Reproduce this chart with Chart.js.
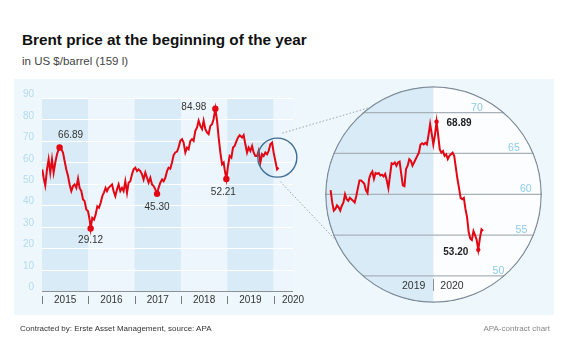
<!DOCTYPE html>
<html><head><meta charset="utf-8">
<script src="https://cdn.jsdelivr.net/npm/chart.js@4"></script>
<style>
html,body{margin:0;padding:0;background:#fff;}
body{width:570px;height:360px;position:relative;overflow:hidden;font-family:"Liberation Sans",Arial,sans-serif;}
#title{position:absolute;left:22px;top:31.5px;font-size:15.3px;line-height:1;font-weight:bold;color:#111;white-space:nowrap;}
#sub{position:absolute;left:22px;top:56px;font-size:11.5px;line-height:1;color:#444;white-space:nowrap;}
#panel{position:absolute;left:14px;top:79px;width:540px;height:236px;background:#eef7fc;}
#main{position:absolute;left:0;top:0;}
#zoomWrap{position:absolute;left:325px;top:86px;width:217px;height:217px;clip-path:circle(50%);}
#zoom{position:absolute;left:0;top:0;}
#footL{position:absolute;left:20px;top:325px;font-size:8px;line-height:1;color:#333;white-space:nowrap;}
#footR{position:absolute;right:20px;top:325px;font-size:8px;line-height:1;color:#888;white-space:nowrap;}
</style></head>
<body>
<div id="title">Brent price at the beginning of the year</div>
<div id="sub">in US $/barrel (159 l)</div>
<div id="panel"></div>
<canvas id="main" width="570" height="360" style="width:570px;height:360px"></canvas>
<div id="zoomWrap"><canvas id="zoom" width="217" height="217" style="width:217px;height:217px"></canvas></div>
<div id="footL">Contracted by: Erste Asset Management, source: APA</div>
<div id="footR">APA-contract chart</div>
<script>
// ---- data ----
const years = [2015, 2016, 2017, 2018, 2019, 2020];
const yTicks = [0, 10, 20, 30, 40, 50, 60, 70, 80, 90];
const mainT = [
 2015.006,2015.035,2015.071,2015.108,2015.143,2015.179,2015.216,2015.251,2015.287,2015.324,2015.359,2015.380,2015.417,2015.454,2015.488,2015.525,2015.562,2015.596,2015.633,2015.670,2015.704,2015.741,2015.778,2015.812,2015.849,2015.886,2015.920,2015.957,2015.994,
 2016.028,2016.050,2016.086,2016.123,2016.158,2016.194,2016.231,2016.266,2016.302,2016.339,2016.374,2016.404,2016.438,2016.475,2016.512,2016.546,2016.583,2016.620,2016.654,2016.691,2016.728,2016.762,2016.799,2016.836,2016.870,2016.907,2016.944,2016.978,
 2017.015,2017.052,2017.086,2017.123,2017.160,2017.194,2017.231,2017.268,2017.302,2017.339,2017.376,2017.410,2017.447,2017.484,2017.518,2017.555,2017.592,2017.626,2017.663,2017.700,2017.734,2017.771,2017.808,2017.842,2017.879,2017.916,2017.950,2017.987,
 2018.024,2018.058,2018.095,2018.132,2018.166,2018.203,2018.240,2018.274,2018.311,2018.348,2018.382,2018.419,2018.456,2018.490,2018.527,2018.564,2018.598,2018.635,2018.672,2018.706,2018.743,2018.780,2018.814,2018.851,2018.888,2018.922,2018.944,2018.981,
 2019.017,2019.052,2019.089,2019.125,2019.160,2019.197,2019.233,2019.268,2019.320,2019.354,2019.391,2019.428,2019.462,2019.499,2019.536,2019.570,2019.607,2019.644,2019.678,2019.715,2019.752,2019.786,2019.823,2019.860,2019.894,2019.931,2019.968,
 2020.002,2020.039,2020.076,2020.110
];
const mainV = [
 56.7,52.8,49.2,56.7,61.4,55.2,61.4,55.2,59.9,63.8,66.0,66.89,66.1,64.6,60.6,56.7,53.6,49.7,46.6,48.9,49.7,48.1,52.4,48.1,46.6,42.7,41.9,38.0,37.2,
 33.3,29.12,34.1,33.3,35.6,39.5,38.8,41.0,44.2,46.0,48.1,46.6,48.1,48.9,49.7,46.6,44.2,47.4,49.7,46.6,48.1,46.6,51.2,45.8,50.5,51.2,54.4,56.7,
 57.5,55.9,56.7,55.9,54.4,52.0,55.2,52.8,50.5,52.8,49.7,48.9,47.4,45.30,48.1,50.5,52.0,51.2,52.8,55.9,57.5,57.0,60.0,63.4,64.6,65.0,67.0,70.0,
 70.8,69.2,64.6,66.9,66.1,70.0,70.8,70.0,74.7,76.3,79.4,77.0,75.5,79.4,75.5,73.9,73.1,77.0,77.8,80.2,84.98,79.4,71.6,64.6,59.1,59.9,56.7,52.21,
 58.3,63.0,62.2,66.9,67.6,69.8,71.6,72.6,71.6,72.7,68.4,64.6,66.9,65.3,67.6,64.6,63.0,63.0,65.3,59.9,63.8,63.0,64.6,63.8,65.3,68.4,69.2,
 64.6,60.6,56.7,57.5
];
const markT = [2015.380, 2016.050, 2017.484, 2018.743, 2018.981];
const markV = [66.89, 29.12, 45.30, 84.98, 52.21];
const focusT = 2020.082, focusV = 62.2;   // centre of the highlighted period

const zoomV = [
 60.5,59.0,58.0,58.2,58.65,58.4,58.0,58.6,59.0,60.0,59.4,59.2,59.56,59.4,59.2,59.0,59.8,60.75,61.7,61.7,
 61.5,61.3,60.5,60.15,61.9,62.5,62.8,61.9,62.6,62.5,62.6,62.3,62.4,62.2,62.5,61.7,60.75,62.3,63.8,63.7,
 63.9,63.5,63.9,64.0,62.5,61.1,61.0,63.1,63.5,64.3,64.1,63.5,63.9,64.3,64.7,65.1,66.1,66.25,66.1,66.3,
 66.1,67.25,68.6,67.4,66.1,67.25,68.89,67.25,65.5,65.1,65.3,64.7,64.9,64.3,64.7,64.9,65.1,64.7,63.3,61.9,
 60.75,59.56,59.4,59.56,58.2,57.2,55.4,54.6,54.4,55.5,55.0,54.4,53.2,54.6,55.7,55.5
];
const zoomYears = ['2019', '2020'];
const zoomSplit = 64;                 // first point of 2020
const zoomTicks = [50, 55, 60, 65, 70];
const zoomMarkI = [66, 92];
const zoomMarkV = [68.89, 53.20];

// ---- styles ----
const RED = '#e30613';
const FONT = '"Liberation Sans", Arial, sans-serif';
const mainLabelStyle = [
 {dx: 11, dy: -12, align: 'center'},
 {dx: 0, dy: 12, align: 'center'},
 {dx: 0, dy: 13, align: 'center'},
 {dx: -9, dy: -2, align: 'right'},
 {dx: -3, dy: 13, align: 'center'}
];
const zoomLabelStyle = [
 {dx: 10, dy: 2, align: 'left'},
 {dx: -10, dy: 2, align: 'right'}
];
const fmt = v => v.toFixed(2);

function seg(ctx, x0, y0, x1, y1) { ctx.beginPath(); ctx.moveTo(x0, y0); ctx.lineTo(x1, y1); ctx.stroke(); }

const mainDeco = {
 id: 'mainDeco',
 beforeDatasetsDraw(c) {
  const {ctx, chartArea: a, scales: {x, y}} = c;
  ctx.save();
  years.forEach((yr, i) => {
   const x0 = x.getPixelForValue(yr), x1 = x.getPixelForValue(Math.min(yr + 1, x.max));
   ctx.fillStyle = i % 2 === 0 ? '#d8ebf7' : '#ecf6fc';
   ctx.fillRect(x0, a.top, x1 - x0, a.bottom - a.top);
  });
  ctx.strokeStyle = '#ffffff'; ctx.lineWidth = 1;
  yTicks.forEach(v => { if (v === 0) return; const py = Math.round(y.getPixelForValue(v)) + 0.5; seg(ctx, a.left, py, a.right, py); });
  ctx.fillStyle = '#b4dbef'; ctx.font = '10px ' + FONT; ctx.textAlign = 'right'; ctx.textBaseline = 'middle';
  yTicks.forEach(v => ctx.fillText(String(v), a.left - 8, y.getPixelForValue(v) - 3.5));
  ctx.strokeStyle = '#8c9196';
  seg(ctx, a.left, a.bottom + 0.5, a.right, a.bottom + 0.5);
  ctx.strokeStyle = '#7a7a7a';
  years.forEach(yr => { const px = Math.round(x.getPixelForValue(yr)) + 0.5; seg(ctx, px, a.bottom + 5, px, a.bottom + 13); });
  ctx.fillStyle = '#333'; ctx.textAlign = 'center'; ctx.font = '10px ' + FONT;
  years.forEach(yr => ctx.fillText(String(yr), x.getPixelForValue(Math.min(yr + 0.5, x.max)), a.bottom + 9.5));
  ctx.restore();
 },
 afterDatasetsDraw(c) {
  const {ctx, scales: {x, y}} = c;
  ctx.save();
  ctx.fillStyle = '#333'; ctx.font = '10px ' + FONT; ctx.textBaseline = 'middle';
  markT.forEach((t, i) => {
   const s = mainLabelStyle[i];
   ctx.textAlign = s.align;
   ctx.fillText(fmt(markV[i]), x.getPixelForValue(t) + s.dx, y.getPixelForValue(markV[i]) + s.dy);
  });
  // small highlight circle
  const sx = x.getPixelForValue(focusT), sy = y.getPixelForValue(focusV), sr = 19.5;
  ctx.strokeStyle = '#3d6d94'; ctx.lineWidth = 1.4;
  ctx.beginPath(); ctx.arc(sx, sy, sr, 0, Math.PI * 2); ctx.stroke();
  // connectors to the magnified circle
  const w = document.getElementById('zoomWrap');
  const R = w.offsetWidth / 2, cx = w.offsetLeft + R, cy = w.offsetTop + R;
  const aU = Math.atan2(-86.5, -65.5), aL = Math.atan2(45.5, -101.5);
  ctx.strokeStyle = '#9aa3aa'; ctx.lineWidth = 1; ctx.setLineDash([1.5, 2]);
  seg(ctx, sx + 5, sy - 24.5, cx + R * Math.cos(aU), cy + R * Math.sin(aU));
  seg(ctx, sx + 3, sy + 24, cx + R * Math.cos(aL), cy + R * Math.sin(aL));
  ctx.restore();
 }
};

new Chart(document.getElementById('main'), {
 type: 'line',
 data: {datasets: [
  {data: markT.map((t, i) => ({x: t, y: markV[i]})), showLine: false, pointRadius: 3.2, pointBackgroundColor: RED, pointBorderWidth: 0, order: 1},
  {data: mainT.map((t, i) => ({x: t, y: mainV[i]})), borderColor: RED, borderWidth: 2, pointRadius: 0, tension: 0, fill: false, order: 2}
 ]},
 options: {
  responsive: false, animation: false, events: [], devicePixelRatio: 1,
  layout: {padding: {left: 42, top: 98, right: 277, bottom: 69}},
  scales: {x: {type: 'linear', min: 2015, max: 2020.42, display: false}, y: {min: 0, max: 90, display: false}},
  plugins: {legend: {display: false}, tooltip: {enabled: false}}
 },
 plugins: [mainDeco]
});

const zoomDeco = {
 id: 'zoomDeco',
 beforeDatasetsDraw(c) {
  const {ctx, width, height, scales: {x, y}} = c;
  const R = width / 2;
  ctx.save();
  ctx.beginPath(); ctx.arc(R, R, R, 0, Math.PI * 2); ctx.clip();
  ctx.fillStyle = '#fbfdfe'; ctx.fillRect(0, 0, width, height);
  const sx = x.getPixelForValue(zoomSplit - 0.0);
  ctx.fillStyle = '#d8ebf7'; ctx.fillRect(0, 0, sx, height);
  ctx.strokeStyle = '#a9b1b8'; ctx.lineWidth = 1.3;
  zoomTicks.forEach(v => { const py = y.getPixelForValue(v); seg(ctx, 0, py, width, py); });
  ctx.fillStyle = '#8ecbea'; ctx.font = '10.5px ' + FONT; ctx.textAlign = 'right'; ctx.textBaseline = 'middle';
  zoomTicks.forEach(v => {
   const py = y.getPixelForValue(v) - 5;
   const dy = py - 4 - R;
   const hc = Math.sqrt(Math.max(0, R * R - dy * dy));
   ctx.fillText(String(v), R + hc - 10, py);
  });
  const by = y.getPixelForValue(50);
  ctx.strokeStyle = '#8c9196'; ctx.lineWidth = 1;
  seg(ctx, Math.round(sx) + 0.5, by + 3, Math.round(sx) + 0.5, by + 15);
  ctx.fillStyle = '#333'; ctx.font = '10.5px ' + FONT;
  ctx.textAlign = 'right'; ctx.fillText(zoomYears[0], sx - 8, by + 10);
  ctx.textAlign = 'left'; ctx.fillText(zoomYears[1], sx + 7, by + 10);
  ctx.restore();
 },
 afterDatasetsDraw(c) {
  const {ctx, width, scales: {x, y}} = c;
  const R = width / 2;
  ctx.save();
  ctx.fillStyle = '#222'; ctx.font = 'bold 10px ' + FONT; ctx.textBaseline = 'middle';
  zoomMarkI.forEach((idx, i) => {
   const s = zoomLabelStyle[i];
   ctx.textAlign = s.align;
   ctx.fillText(fmt(zoomMarkV[i]), x.getPixelForValue(idx) + s.dx, y.getPixelForValue(zoomMarkV[i]) + s.dy);
  });
  ctx.strokeStyle = '#7f8d9a'; ctx.lineWidth = 1.3;
  ctx.beginPath(); ctx.arc(R, R, R - 0.8, 0, Math.PI * 2); ctx.stroke();
  ctx.restore();
 }
};

new Chart(document.getElementById('zoom'), {
 type: 'line',
 data: {datasets: [
  {data: zoomMarkI.map((idx, i) => ({x: idx, y: zoomMarkV[i]})), showLine: false, pointRadius: 2.2, pointBackgroundColor: RED, pointBorderWidth: 0, order: 1},
  {data: zoomV.map((v, i) => ({x: i, y: v})), borderColor: RED, borderWidth: 2, pointRadius: 0, tension: 0, fill: false, order: 2}
 ]},
 options: {
  responsive: false, animation: false, events: [], devicePixelRatio: 1,
  layout: {padding: 0},
  scales: {x: {type: 'linear', min: -1, max: 129.2, display: false}, y: {min: 47.18, max: 72.77, display: false}},
  plugins: {legend: {display: false}, tooltip: {enabled: false}}
 },
 plugins: [zoomDeco]
});
</script>
</body></html>
